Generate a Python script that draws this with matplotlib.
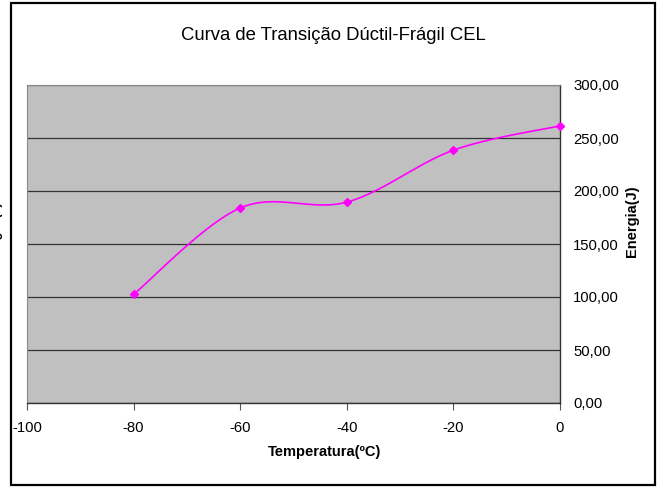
import matplotlib.pyplot as plt
import numpy as np
from matplotlib.patches import Rectangle

plt.rcParams["font.family"] = ["Liberation Sans", "DejaVu Sans"]

# data
temperatura = [-80, -60, -40, -20, 0]
energia = [102.5, 184.0, 189.5, 238.5, 261.5]
y_ticks = [0, 50, 100, 150, 200, 250, 300]
x_ticks = [-100, -80, -60, -40, -20, 0]


def smooth(x, y, n=30):
    """Catmull-Rom style curve through the points (like Excel's smoothed line)."""
    x = np.asarray(x, float)
    y = np.asarray(y, float)
    px = np.concatenate([[x[0]], x, [x[-1]]])
    py = np.concatenate([[y[0]], y, [y[-1]]])
    xs, ys = [], []
    for i in range(1, len(px) - 2):
        t = np.linspace(0, 1, n)
        p0, p1, p2, p3 = [np.array([px[j], py[j]]) for j in range(i - 1, i + 3)]
        c1 = p1 + (p2 - p0) / 6
        c2 = p2 - (p3 - p1) / 6
        b = ((1 - t) ** 3)[:, None] * p1 + (3 * (1 - t) ** 2 * t)[:, None] * c1 \
            + (3 * (1 - t) * t ** 2)[:, None] * c2 + (t ** 3)[:, None] * p2
        xs.extend(b[:, 0])
        ys.extend(b[:, 1])
    return np.array(xs), np.array(ys)


fig = plt.figure(figsize=(6.61, 4.87), dpi=100)
fig.patch.set_facecolor("white")

# outer frame of the pasted chart
fig.add_artist(Rectangle((11 / 661, 2 / 487), 644 / 661, 482 / 487, transform=fig.transFigure,
                         fill=False, edgecolor="black", linewidth=1.6))

ax = fig.add_axes([27 / 661, 1 - 403 / 487, 533 / 661, 318 / 487])
ax.set_facecolor("#c0c0c0")

sx, sy = smooth(temperatura, energia)
ax.plot(sx, sy, color="#ff00ff", linewidth=1.2, zorder=3)
ax.plot(temperatura, energia, linestyle="none", marker="D", markersize=4,
        color="#ff00ff", zorder=4, clip_on=False)

ax.set_xlim(-100, 0)
ax.set_ylim(0, 300)
ax.set_xticks(x_ticks)
ax.set_xticklabels([str(v) for v in x_ticks], fontsize=10.7)
ax.set_yticks(y_ticks)
ax.set_yticklabels([f"{v:.2f}".replace(".", ",") for v in y_ticks], fontsize=10.7)
ax.yaxis.tick_right()
ax.grid(axis="y", color="#333333", linewidth=0.9)
ax.set_axisbelow(True)
ax.tick_params(axis="x", direction="out", length=5, width=0.8, pad=8, color="#555555")
ax.tick_params(axis="y", direction="out", length=0, pad=9.5)

for side in ["left", "top"]:
    ax.spines[side].set_color("#888888")
    ax.spines[side].set_linewidth(0.8)
for side in ["right", "bottom"]:
    ax.spines[side].set_color("#333333")
    ax.spines[side].set_linewidth(1.0)

fig.text(325 / 661, 1 - 452 / 487, "Temperatura(ºC)", ha="center", va="center",
         fontsize=10.5, fontweight="bold")
fig.text(632 / 661, 1 - 221 / 487, "Energia(J)", rotation=90, ha="center", va="center",
         fontsize=10.5, fontweight="bold")

fig.text(333 / 661, 1 - 35 / 487, "Curva de Transição Dúctil-Frágil CEL",
         ha="center", va="center", fontsize=13.3)

# clipped remainder of a neighbouring label at the left edge
fig.text(-3 / 661, 1 - 235 / 487, "Energia (J)", rotation=90,
         ha="center", va="center", fontsize=9, fontweight="bold")

fig.savefig("out.png", dpi=100)
